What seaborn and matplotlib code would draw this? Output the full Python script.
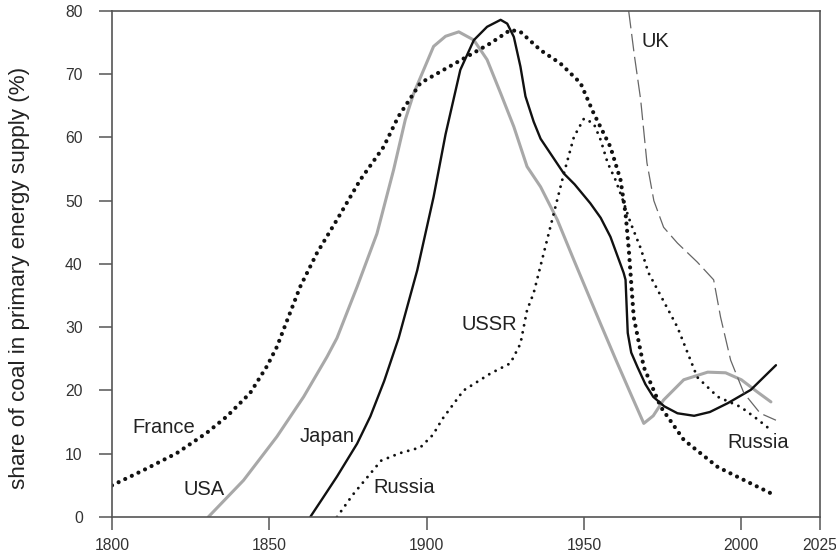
import numpy as np
import pandas as pd
import matplotlib
matplotlib.use("Agg")
import matplotlib.pyplot as plt
import seaborn as sns

# ---------------- data ----------------
france_years = [1800, 1810, 1820.6, 1830.1, 1836.5, 1843.9, 1849.2, 1852.4, 1854.5, 1859.8, 1865.1,
                1871.5, 1878.9, 1886.3, 1891, 1898, 1905.4, 1912.9, 1920.3, 1926.6, 1929.8, 1936.2,
                1942.5, 1948.9, 1953, 1958.4, 1961.6, 1963.2, 1964.2, 1965.8, 1969, 1974.4, 1981.7,
                1992.5, 2001, 2010]
france_share = [5.0, 7.4, 10.1, 13.3, 15.9, 19.6, 23.8, 26.9, 29.6, 36.4, 41.7,
                47.0, 53.3, 58.5, 63.3, 68.6, 70.7, 72.8, 74.9, 77.0, 76.7, 73.8,
                71.7, 68.6, 63.9, 58.5, 53.3, 48.0, 42.5, 31.6, 23.7, 17.4, 12.2,
                7.9, 5.8, 3.6]

usa_years = [1830.6, 1841.8, 1852.4, 1860.9, 1868.3, 1871.5, 1877.9, 1884.2, 1889.5, 1893.2, 1895.9,
             1902.2, 1906, 1910.2, 1915, 1919.2, 1923.5, 1927.7, 1931.9, 1936.2, 1941.5, 1946.8,
             1952.1, 1955.3, 1960, 1965, 1969, 1972, 1975.3, 1981.7, 1989.3, 1995, 2000, 2005,
             2009.4]
usa_share = [0, 5.8, 12.7, 19.0, 25.3, 28.3, 36.4, 44.8, 54.9, 62.8, 67.0,
             74.4, 76.0, 76.7, 75.4, 72.3, 67.0, 61.7, 55.4, 52.2, 47.0, 40.6,
             34.3, 30.5, 25.0, 19.3, 14.8, 16.0, 18.5, 21.7, 22.9, 22.8, 21.7, 19.8,
             18.2]

japan_years = [1863, 1867, 1871.5, 1877.9, 1882.1, 1886.5, 1891.1, 1897, 1902.2, 1906, 1910.7,
               1915, 1919.2, 1923.5, 1925.6, 1927.7, 1929.8, 1931.4, 1934, 1936.2, 1943.6, 1947,
               1950, 1952, 1955.3, 1958.4, 1962.6, 1963.2, 1963.9, 1965, 1967, 1969.5, 1972,
               1975.5, 1979.7, 1985, 1990, 1995.7, 2003, 2011]
japan_share = [0, 3.0, 6.4, 11.6, 15.9, 21.5, 28.3, 39.0, 50.6, 60.5, 70.7,
               75.4, 77.5, 78.6, 78.0, 75.9, 71.2, 66.5, 62.5, 59.8, 54.3, 52.6,
               50.8, 49.6, 47.3, 44.3, 38.6, 37.5, 29.1, 26.0, 23.7, 21.0, 19.0,
               17.5, 16.4, 16.0, 16.6, 18.0, 20.1, 24.0]

russia_years = [1871.5, 1876.5, 1882, 1885.5, 1891.5, 1898, 1902, 1905, 1911.7, 1920.3, 1926.6,
                1929.8, 1931.9, 1934, 1937.2, 1940.4, 1943.6, 1946.8, 1950, 1953.1, 1955.3,
                1957.5, 1960, 1962, 1964.8, 1968, 1970.5, 1973.4, 1979.7, 1986, 1992.5, 1999.8,
                2005, 2010]
russia_share = [0, 3.5, 6.8, 8.9, 10.1, 11.0, 13.0, 15.5, 20.0, 22.7, 24.3,
                27.4, 32.7, 35.4, 41.7, 48.0, 54.3, 60.1, 63.0, 62.2, 59.6,
                56.0, 53.3, 50.6, 46.5, 42.5, 38.6, 35.9, 30.0, 22.1, 19.0, 17.4,
                15.5, 13.5]

uk_years = [1964.2, 1966, 1968, 1970, 1972.2, 1975.3, 1979.7, 1986, 1991.2, 1993.4, 1996.6,
            2000.8, 2006, 2011]
uk_share = [80, 73, 66, 56, 50, 45.8, 43.3, 40.3, 37.5, 31.6, 24.8, 19.6, 16.4, 15.3]

labels = ["France", "USA", "Japan", "Russia", "USSR", "UK", "Russia"]
label_x = [1816.5, 1829.3, 1868.4, 1892.9, 1920.0, 1972.8, 2005.5]
label_y = [14.1, 4.3, 12.8, 4.7, 30.4, 75.1, 11.7]

x_ticks = [1800, 1850, 1900, 1950, 2000, 2025]
y_ticks = [0, 10, 20, 30, 40, 50, 60, 70, 80]
y_label = "share of coal in primary energy supply (%)"

# ---------------- style ----------------
sns.set_style("ticks")
plt.rcParams["font.family"] = ["Liberation Sans", "DejaVu Sans"]

fig = plt.figure(figsize=(8.37, 5.57), dpi=100)
ax = fig.add_axes([0.1338, 0.0718, 0.8459, 0.9085])

def draw(xs, ys, **kw):
    df = pd.DataFrame({"year": xs, "share": ys})
    sns.lineplot(data=df, x="year", y="share", sort=False, ax=ax, **kw)

draw(usa_years, usa_share, color="#a8a8a8", linewidth=2.2, solid_capstyle="round",
     solid_joinstyle="round")
draw(japan_years, japan_share, color="#111111", linewidth=1.7, solid_capstyle="round",
     solid_joinstyle="round")
draw(uk_years, uk_share, color="#666666", linewidth=0.9, linestyle=(0, (14, 4.5)))
draw(france_years, france_share, color="#111111", linewidth=3.0,
     linestyle=(0, (0.01, 1.75)), dash_capstyle="round")
draw(russia_years, russia_share, color="#111111", linewidth=2.1,
     linestyle=(0, (0.01, 2.45)), dash_capstyle="round")

for t, xx, yy in zip(labels, label_x, label_y):
    ax.text(xx, yy, t, ha="center", va="center", fontsize=14.5, color="#222222")

ax.set_xlim(1800, 2025)
ax.set_ylim(0, 80)
ax.set_xticks(x_ticks)
ax.set_yticks(y_ticks)
ax.set_xlabel("")
ax.set_ylabel(y_label, fontsize=16.2, color="#222222")
ax.yaxis.set_label_coords(-0.116, 0.473)
ax.tick_params(axis="both", direction="out", length=9.5, width=1.1, color="#555555",
               labelsize=11.3, labelcolor="#333333")
ax.tick_params(axis="y", pad=11.5)
ax.tick_params(axis="x", pad=5.5)
for s in ax.spines.values():
    s.set_visible(True)
    s.set_color("#555555")
    s.set_linewidth(1.2)

fig.savefig("out.png", dpi=100)
